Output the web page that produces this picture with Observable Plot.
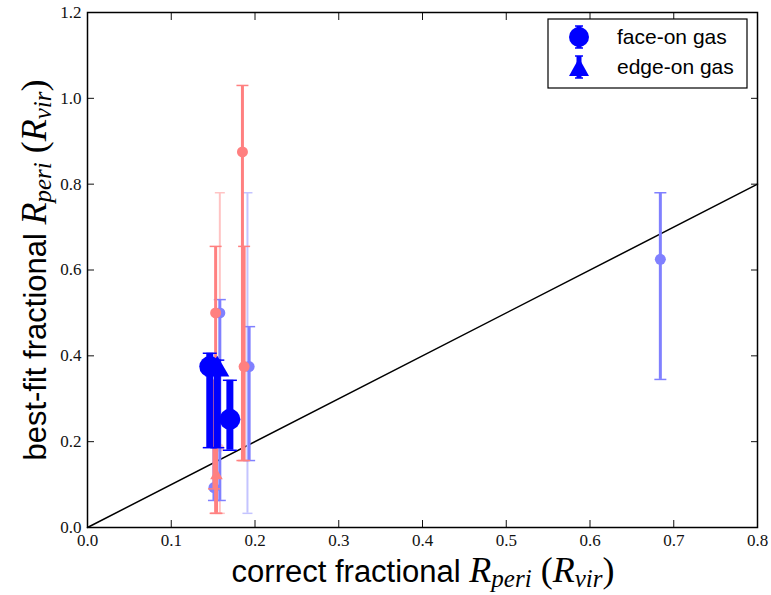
<!DOCTYPE html>
<html><head><meta charset="utf-8">
<script src="https://cdn.jsdelivr.net/npm/d3@7"></script>
<script src="https://cdn.jsdelivr.net/npm/@observablehq/plot@0.6"></script>
<style>body{margin:0;background:#fff}</style>
</head><body><div id="chart"></div>
<script>
// ---- data ----
const pointX    = [0.684, 0.185, 0.187, 0.191, 0.193, 0.158, 0.153, 0.158, 0.151, 0.154, 0.151, 0.146, 0.155, 0.170];
const pointY    = [0.625, 0.875, 0.375, 0.375, 0.375, 0.186, 0.500, 0.500, 0.219, 0.121, 0.093, 0.375, 0.368, 0.252];
const errLow    = [0.345, 0.156, 0.156, 0.033, 0.156, 0.033, 0.033, 0.063, 0.090, 0.033, 0.063, 0.186, 0.186, 0.180];
const errHigh   = [0.780, 1.030, 0.655, 0.780, 0.468, 0.780, 0.655, 0.531, 0.343, 0.250, 0.250, 0.406, 0.390, 0.343];
const pointGroup= ["blueMid","redMid","redMid","blueFaint","blueMid","redFaint","redMid","blueMid","redMid","redMid","blueMid","blueMain","blueMain","blueMain"];
const pointKind = ["face-on","face-on","face-on","face-on","face-on","face-on","face-on","face-on","face-on","edge-on","face-on","face-on","edge-on","face-on"];
const xTicks = [0, 0.1, 0.2, 0.3, 0.4, 0.5, 0.6, 0.7, 0.8];
const yTicks = [0, 0.2, 0.4, 0.6, 0.8, 1.0, 1.2];
const oneToOne = [0, 0.8];
const legendLabels = ["face-on gas", "edge-on gas"];

// ---- styles ----
const groupStyle = {
  blueFaint: {color: "#c4c4ff", lw: 2, r: 4, cap: 5},
  redFaint:  {color: "#ffc4c4", lw: 2, r: 4, cap: 5},
  blueMid:   {color: "#8080ff", lw: 3, r: 5.5, cap: 6},
  redMid:    {color: "#ff8080", lw: 3, r: 5.5, cap: 6},
  blueMain:  {color: "#0000ff", lw: 7, r: 10.5, cap: 7}
};
const drawOrder = ["blueFaint", "redFaint", "blueMid", "redMid", "blueMain"];

const data = pointX.map((x, i) => ({x, y: pointY[i], lo: errLow[i], hi: errHigh[i], group: pointGroup[i], kind: pointKind[i]}));

const capSymbol = {draw(ctx, size) { const w = Math.sqrt(size / Math.PI); ctx.moveTo(-w, 0); ctx.lineTo(w, 0); }};

const marks = [];
marks.push(Plot.line(oneToOne.map(v => ({x: v, y: v})), {x: "x", y: "y", stroke: "black", strokeWidth: 1.5}));
for (const g of drawOrder) {
  const s = groupStyle[g];
  const sub = data.filter(d => d.group === g);
  marks.push(Plot.ruleX(sub, {x: "x", y1: "lo", y2: "hi", stroke: s.color, strokeWidth: s.lw}));
  for (const key of ["lo", "hi"]) {
    marks.push(Plot.dot(sub, {x: "x", y: key, symbol: capSymbol, r: s.cap, stroke: s.color, strokeWidth: 1.5, fill: "none"}));
  }
  marks.push(Plot.dot(sub.filter(d => d.kind === "face-on"), {x: "x", y: "y", symbol: "circle", r: s.r, fill: s.color, stroke: "none"}));
  marks.push(Plot.dot(sub.filter(d => d.kind === "edge-on"), {x: "x", y: "y", symbol: "triangle", r: s.r * 0.85, fill: s.color, stroke: "none"}));
}
const fmt = d3.format(".1f");
marks.push(
  Plot.axisX({anchor: "bottom", ticks: xTicks, tickSize: -7, tickPadding: 13, tickFormat: fmt, fontSize: 17, label: null}),
  Plot.axisX({anchor: "top", ticks: xTicks, tickSize: -7, tickFormat: () => "", label: null}),
  Plot.axisY({anchor: "left", ticks: yTicks, tickSize: -7, tickPadding: 13, tickFormat: fmt, fontSize: 17, label: null}),
  Plot.axisY({anchor: "right", ticks: yTicks, tickSize: -7, tickFormat: () => "", label: null}),
  Plot.frame({stroke: "black", strokeWidth: 1.5})
);

const svg = Plot.plot({
  width: 771, height: 595,
  marginLeft: 87, marginRight: 14, marginTop: 12, marginBottom: 68,
  x: {domain: [0, 0.8]},
  y: {domain: [0, 1.2]},
  style: {fontFamily: "'Liberation Serif', serif", background: "white", color: "#111"},
  marks
});
document.getElementById("chart").appendChild(svg);

const S = d3.select(svg);

// ---- axis labels with math styling ----
function mathLabel(sel, prefix) {
  sel.attr("font-size", 31).attr("fill", "black").attr("text-anchor", "middle");
  const serif = "'Liberation Serif', serif";
  sel.append("tspan").attr("font-family", "'Liberation Sans', Arial, sans-serif").text(prefix);
  sel.append("tspan").attr("font-family", serif).attr("font-style", "italic").attr("font-size", 36).text("R");
  sel.append("tspan").attr("font-family", serif).attr("font-style", "italic").attr("font-size", 25).attr("dy", 5).text("peri");
  sel.append("tspan").attr("font-family", serif).attr("font-size", 36).attr("dy", -5).text(" (");
  sel.append("tspan").attr("font-family", serif).attr("font-style", "italic").attr("font-size", 36).text("R");
  sel.append("tspan").attr("font-family", serif).attr("font-style", "italic").attr("font-size", 25).attr("dy", 5).text("vir");
  sel.append("tspan").attr("font-family", serif).attr("font-size", 36).attr("dy", -5).text(")");
}
mathLabel(S.append("text").attr("transform", "translate(423,582)"), "correct fractional ");
mathLabel(S.append("text").attr("transform", "translate(46,270) rotate(-90)"), "best-fit fractional ");

// ---- legend ----
const L = S.append("g");
L.append("rect").attr("x", 548).attr("y", 19).attr("width", 199).attr("height", 69).attr("fill", "white").attr("stroke", "black").attr("stroke-width", 1.2);
const rows = [{cy: 37, kind: "face-on"}, {cy: 67, kind: "edge-on"}];
rows.forEach((row, i) => {
  const cx = 579;
  L.append("line").attr("x1", cx).attr("x2", cx).attr("y1", row.cy - 11).attr("y2", row.cy + 11).attr("stroke", "blue").attr("stroke-width", 5);
  L.append("line").attr("x1", cx - 4).attr("x2", cx + 4).attr("y1", row.cy - 11).attr("y2", row.cy - 11).attr("stroke", "blue").attr("stroke-width", 1.5);
  L.append("line").attr("x1", cx - 4).attr("x2", cx + 4).attr("y1", row.cy + 11).attr("y2", row.cy + 11).attr("stroke", "blue").attr("stroke-width", 1.5);
  if (row.kind === "face-on") {
    L.append("circle").attr("cx", cx).attr("cy", row.cy).attr("r", 10).attr("fill", "blue");
  } else {
    L.append("path").attr("d", `M${cx},${row.cy - 9}L${cx + 10},${row.cy + 9}L${cx - 10},${row.cy + 9}Z`).attr("fill", "blue");
  }
  L.append("text").attr("x", 617).attr("y", row.cy + 7).attr("text-anchor", "start")
    .attr("font-family", "'Liberation Sans', Arial, sans-serif").attr("font-size", 21).attr("fill", "black").text(legendLabels[i]);
});
</script>
</body></html>
